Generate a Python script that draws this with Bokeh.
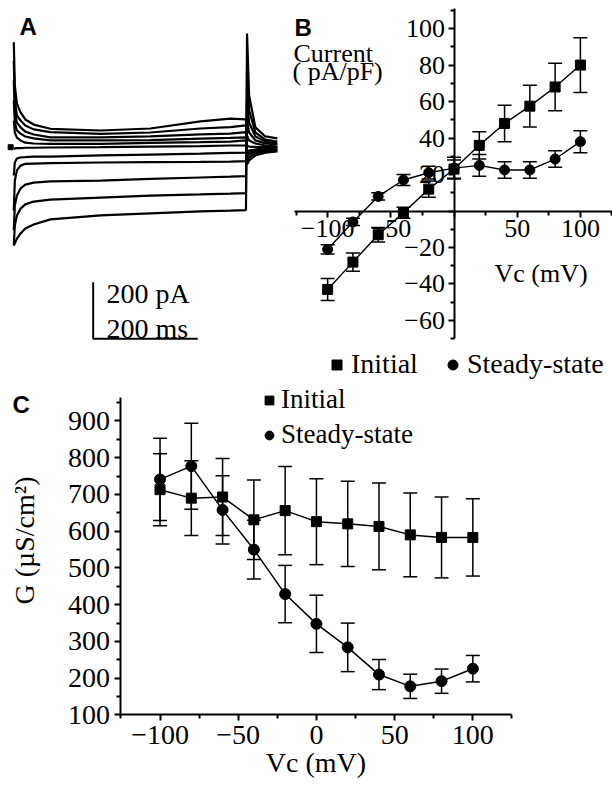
import math
from bokeh.plotting import figure
from bokeh.models import (ColumnDataSource, Whisker, TeeHead, Label, Legend, LegendItem,
                          FixedTicker, Range1d)
from bokeh.layouts import column, row
from bokeh.embed import file_html
from bokeh.resources import INLINE

# ---------------- Panel A: current traces (ms, pA) ----------------
time_ms = [0, 2, 6, 13, 22, 38, 70, 166, 261, 357, 414, 444, 446, 450, 462, 481, 504]
trace_m100 = [-347, -340, -323, -305, -287, -273, -255, -241, -234, -227, -224, -222, 402, 183, 70, 38, 31]
trace_m80 = [-347, -277, -241, -217, -202, -192, -185, -178, -171, -167, -164, -162, 271, 130, 52, 27, 20]
trace_m60 = [-294, -206, -171, -146, -132, -125, -121, -118, -112, -107, -104, -102, 165, 87, 38, 20, 13]
trace_m40 = [-224, -118, -82, -65, -59, -58, -56, -54, -53, -52, -51, -49, 94, 52, 24, 13, 10]
trace_m20 = [-100, -54, -40, -36, -35, -33, -33, -29, -26, -23, -20, -19, 41, 24, 13, 6, 2]
trace_0 = [-5, -4, -3, -3, -2, -2, -1, 0, 2, 4, 6, 6, 6, 2, 1, 0, 0]
trace_p20 = [94, 52, 34, 24, 16, 13, 12, 12, 15, 18, 20, 24, -12, -12, -8, -5, -1]
trace_p40 = [165, 87, 59, 48, 38, 31, 24, 24, 25, 30, 33, 35, -22, -19, -12, -8, -5]
trace_p60 = [236, 123, 87, 70, 55, 45, 35, 35, 38, 45, 48, 53, -33, -26, -15, -12, -8]
trace_p80 = [306, 165, 112, 94, 77, 63, 53, 47, 52, 66, 71, 77, -47, -36, -22, -15, -12]
trace_p100 = [371, 218, 154, 123, 98, 80, 65, 59, 66, 91, 101, 98, -61, -47, -29, -19, -15]
traces = [trace_m100, trace_m80, trace_m60, trace_m40, trace_m20, trace_0,
          trace_p20, trace_p40, trace_p60, trace_p80, trace_p100]
holding_pA = 0
scale_bar_ms = 200
scale_bar_pA = 200

# ---------------- Panel B: current density (pA/pF) ----------------
vc_mV = [-100, -80, -60, -40, -20, 0, 20, 40, 60, 80, 100]
b_initial = [-43, -28, -13, -1, 12, 23, 36, 48, 57.5, 68, 80]
b_initial_err = [6, 5, 4, 3, 4.5, 5, 7.5, 10, 11.5, 13, 15]
b_steady = [-21, -6, 8, 17, 21, 23.5, 25, 22.5, 22.5, 28.5, 38]
b_steady_err = [2.5, 2, 2, 3, 3.5, 6, 6, 4.5, 4.5, 4.5, 6]
b_xticks = [-100, -50, 0, 50, 100]
b_xminor = [-125, -75, -25, 25, 75, 125]
b_yticks = [-60, -40, -20, 0, 20, 40, 60, 80, 100]
b_yminor = [-70, -50, -30, -10, 10, 30, 50, 70, 90, 110]

# ---------------- Panel C: conductance (uS/cm2) ----------------
c_initial = [713, 690, 693, 631, 656, 626, 620, 613, 590, 583, 583]
c_initial_err = [98, 102, 105, 108, 120, 117, 116, 118, 114, 110, 105]
c_steady = [741, 777, 658, 550, 429, 348, 284, 210, 178, 192, 226]
c_steady_err = [112, 117, 93, 80, 78, 78, 66, 41, 33, 33, 36]
c_xticks = [-100, -50, 0, 50, 100]
c_xminor = [-125, -75, -25, 25, 75, 125]
c_yticks = [100, 200, 300, 400, 500, 600, 700, 800, 900]
c_yminor = [150, 250, 350, 450, 550, 650, 750, 850, 950]

SERIF = "Liberation Serif"
SANS = "Liberation Sans"


def style_axis(ax, size):
    ax.axis_line_width = 2
    ax.axis_line_color = "black"
    ax.major_tick_line_width = 2
    ax.minor_tick_line_width = 2
    ax.major_tick_line_color = "black"
    ax.minor_tick_line_color = "black"
    ax.major_tick_in = 0
    ax.major_tick_out = 6
    ax.minor_tick_in = 0
    ax.minor_tick_out = 4
    ax.major_label_text_font = SERIF
    ax.major_label_text_font_size = size
    ax.major_label_text_color = "black"
    ax.axis_label_text_font = SERIF
    ax.axis_label_text_font_size = size
    ax.axis_label_text_font_style = "normal"
    ax.axis_label_text_color = "black"


def err_source(vals, errs):
    return ColumnDataSource(dict(x=vc_mV, y=vals,
                                 up=[v + e for v, e in zip(vals, errs)],
                                 lo=[v - e for v, e in zip(vals, errs)]))


def add_whiskers(p, src, head):
    p.add_layout(Whisker(base="x", upper="up", lower="lo", source=src, line_width=1.5,
                         line_color="black",
                         upper_head=TeeHead(size=head, line_width=1.5, line_color="black"),
                         lower_head=TeeHead(size=head, line_width=1.5, line_color="black")))


def text(p, x, y, s, size, font=SERIF, bold=False, baseline="alphabetic", **kw):
    p.add_layout(Label(x=x, y=y, x_units="screen", y_units="screen", text=s,
                       text_font=font, text_font_size=size,
                       text_font_style="bold" if bold else "normal",
                       text_color="black", text_baseline=baseline, **kw))


# ================= Panel A =================
pA = figure(width=280, height=380, x_range=Range1d(-25.4, 510), y_range=Range1d(-824.4, 518.4),
            output_backend="svg", toolbar_location=None, min_border=0,
            x_axis_type=None, y_axis_type=None)
pA.outline_line_color = None
for tr in traces:
    pA.line(time_ms, tr, line_color="black", line_width=2.2)
pA.scatter([time_ms[0] - 6], [holding_pA], marker="square", size=5, color="black")
bar_t0 = 151.8
bar_i0 = -677
pA.line([bar_t0, bar_t0, bar_t0 + scale_bar_ms], [bar_i0 + scale_bar_pA, bar_i0, bar_i0],
        line_color="black", line_width=2)
text(pA, 19, 368, "A", "24px", font=SANS, bold=True, baseline="top")
text(pA, 106, 86.7, "200 pA", "28px")
text(pA, 106, 51.7, "200 ms", "28px")

# ================= Panel B =================
pB = figure(width=332, height=380, x_range=Range1d(-137.3, 125.4), y_range=Range1d(-92.9, 115.4),
            output_backend="svg", toolbar_location=None, min_border=0)
pB.outline_line_color = None
pB.grid.visible = False
for ax in (pB.xaxis[0], pB.yaxis[0]):
    style_axis(ax, "26px")
    ax.fixed_location = 0
    ax.major_label_standoff = 3
    ax.major_label_overrides = {0: ""}
pB.xaxis[0].bounds = (-126.2, 125.4)
pB.yaxis[0].bounds = (-70, 110.9)
pB.xaxis[0].ticker = FixedTicker(ticks=b_xticks, minor_ticks=b_xminor)
pB.yaxis[0].ticker = FixedTicker(ticks=b_yticks, minor_ticks=b_yminor)

srcB1 = err_source(b_initial, b_initial_err)
srcB2 = err_source(b_steady, b_steady_err)
add_whiskers(pB, srcB1, 14)
add_whiskers(pB, srcB2, 14)
pB.line("x", "y", source=srcB1, line_color="black", line_width=1.4)
pB.line("x", "y", source=srcB2, line_color="black", line_width=1.4)
rB1 = pB.scatter("x", "y", source=srcB1, marker="square", size=10, color="black")
rB2 = pB.scatter("x", "y", source=srcB2, marker="circle", size=10, color="black")

text(pB, 14, 367, "B", "24px", font=SANS, bold=True, baseline="top")
text(pB, 13, 327, "Current", "26px")
text(pB, 12, 309, "( pA/pF)", "26px")
text(pB, 214, 106.7, "Vc (mV)", "26px")

legB = Legend(items=[LegendItem(label="Initial", renderers=[rB1]),
                     LegendItem(label="Steady-state", renderers=[rB2])],
              location=(44, 0), orientation="horizontal",
              glyph_width=25, glyph_height=25, label_standoff=2, spacing=22,
              padding=0, margin=0, border_line_color=None, background_fill_alpha=0,
              label_text_font=SERIF, label_text_font_size="28px", label_text_color="black")
pB.add_layout(legB)

# ================= Panel C =================
pC = figure(width=612, height=410, x_range=Range1d(-202.0, 189.3), y_range=Range1d(-105.4, 1010),
            output_backend="svg", toolbar_location=None, min_border=0)
pC.outline_line_color = None
pC.grid.visible = False
for ax in (pC.xaxis[0], pC.yaxis[0]):
    style_axis(ax, "28px")
pC.xaxis[0].fixed_location = 100
pC.yaxis[0].fixed_location = -125
pC.xaxis[0].bounds = (-125, 125)
pC.yaxis[0].bounds = (100, 965)
pC.xaxis[0].ticker = FixedTicker(ticks=c_xticks, minor_ticks=c_xminor)
pC.yaxis[0].ticker = FixedTicker(ticks=c_yticks, minor_ticks=c_yminor)
pC.xaxis[0].axis_label = "Vc (mV)"
pC.xaxis[0].axis_label_standoff = 0

srcC1 = err_source(c_initial, c_initial_err)
srcC2 = err_source(c_steady, c_steady_err)
add_whiskers(pC, srcC1, 14)
add_whiskers(pC, srcC2, 14)
pC.line("x", "y", source=srcC1, line_color="black", line_width=1.5)
pC.line("x", "y", source=srcC2, line_color="black", line_width=1.5)
rC1 = pC.scatter("x", "y", source=srcC1, marker="square", size=10, color="black")
rC2 = pC.scatter("x", "y", source=srcC2, marker="circle", size=11, color="black")

text(pC, 12, 400, "C", "24px", font=SANS, bold=True, baseline="top")
text(pC, 24, 250, "G (µS/cm²)", "28px", baseline="middle", angle=math.pi / 2, text_align="center")
legC = Legend(items=[LegendItem(label="Initial", renderers=[rC1]),
                     LegendItem(label="Steady-state", renderers=[rC2])],
              location=(258, 340), orientation="vertical",
              glyph_width=22, glyph_height=22, label_standoff=1, spacing=4,
              padding=0, margin=0, border_line_color=None, background_fill_alpha=0,
              label_text_font=SERIF, label_text_font_size="27px", label_text_color="black")
pC.add_layout(legC)

layout = column(row(pA, pB, spacing=0), pC, spacing=0)
open("out.html", "w").write(file_html(layout, INLINE))
